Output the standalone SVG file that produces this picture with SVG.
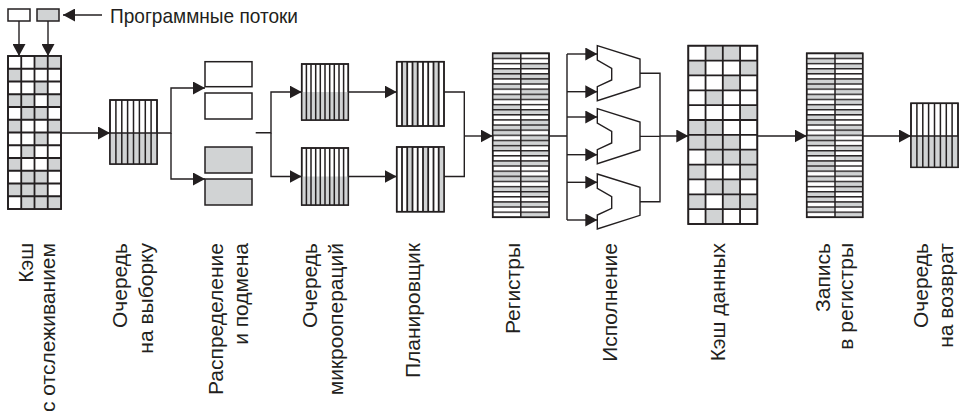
<svg xmlns="http://www.w3.org/2000/svg" width="959" height="416" viewBox="0 0 959 416">
<style>
.lbl{font-family:"Liberation Sans",Arial,sans-serif;font-size:21px;fill:#231f20}
.box{fill:#fff;stroke:#231f20;stroke-width:1.5}
.gbox{fill:#d1d3d4;stroke:#231f20;stroke-width:1.5}
.g{fill:#d1d3d4}
.ln{fill:none;stroke:#231f20;stroke-width:1.5}
.thk{fill:none;stroke:#231f20;stroke-width:1.8}
.con{fill:none;stroke:#231f20;stroke-width:1.4}
.alu{fill:#fff;stroke:#231f20;stroke-width:1.4;stroke-linejoin:miter}
</style>
<defs>
<marker id="ah" markerUnits="userSpaceOnUse" markerWidth="13" markerHeight="13" refX="12" refY="6.5" orient="auto">
<path d="M0,0 L12,6.5 L0,13 z" fill="#231f20"/>
</marker>
<pattern id="hs" patternUnits="userSpaceOnUse" x="0" y="52.6" width="20" height="5.125">
<rect width="20" height="1.4" fill="#231f20"/>
</pattern>
<polygon id="aluShape" points="0,0 42.7,13.3 42.7,41.3 0,55 0,41 14.4,34.3 14.4,22.6 0,14.3"/>
</defs>
<rect width="959" height="416" fill="#fff"/>

<g id="threads">
<rect class="box" x="8" y="9" width="22" height="12"/>
<rect class="gbox" x="37" y="9" width="22" height="12"/>
<text class="lbl" x="110" y="23" textLength="188" lengthAdjust="spacingAndGlyphs">Программные потоки</text>
</g>

<g id="trace-cache">
<rect class="box" x="8" y="56" width="53" height="153"/>
<rect class="g" x="34.5" y="56" width="26.5" height="12.75"/>
<rect class="g" x="8" y="68.75" width="13.25" height="12.75"/>
<rect class="g" x="34.5" y="81.5" width="13.25" height="12.75"/>
<rect class="g" x="8" y="94.25" width="26.5" height="12.75"/>
<rect class="g" x="47.75" y="94.25" width="13.25" height="12.75"/>
<rect class="g" x="21.25" y="107" width="26.5" height="12.75"/>
<rect class="g" x="8" y="119.75" width="13.25" height="12.75"/>
<rect class="g" x="47.75" y="119.75" width="13.25" height="12.75"/>
<rect class="g" x="34.5" y="132.5" width="13.25" height="12.75"/>
<rect class="g" x="21.25" y="145.25" width="13.25" height="12.75"/>
<rect class="g" x="8" y="158" width="13.25" height="12.75"/>
<rect class="g" x="47.75" y="158" width="13.25" height="12.75"/>
<rect class="g" x="21.25" y="170.75" width="26.5" height="12.75"/>
<rect class="g" x="8" y="183.5" width="39.75" height="12.75"/>
<rect class="g" x="21.25" y="196.25" width="39.75" height="12.75"/>
<path class="thk" d="M21.25,56V209M34.5,56V209M47.75,56V209M8,68.75H61M8,81.5H61M8,94.25H61M8,107H61M8,119.75H61M8,132.5H61M8,145.25H61M8,158H61M8,170.75H61M8,183.5H61M8,196.25H61"/>
<rect x="8" y="56" width="53" height="153" fill="none" stroke="#231f20" stroke-width="1.8"/>
<text class="lbl" transform="translate(33,243) rotate(-90)" text-anchor="end">Кэш</text>
<text class="lbl" transform="translate(55,243) rotate(-90)" text-anchor="end">с отслеживанием</text>
</g>

<g id="fetch-queue">
<rect class="box" x="110" y="100" width="47" height="64"/>
<rect class="g" x="110" y="133" width="47" height="31"/>
<path class="ln" d="M115.9,100V164M121.8,100V164M127.6,100V164M133.5,100V164M139.4,100V164M145.3,100V164M151.1,100V164M110,133H157"/>
<rect x="110" y="100" width="47" height="64" fill="none" stroke="#231f20" stroke-width="1.5"/>
<text class="lbl" transform="translate(127,243) rotate(-90)" text-anchor="end">Очередь</text>
<text class="lbl" transform="translate(153,243) rotate(-90)" text-anchor="end">на выборку</text>
</g>

<g id="allocate-rename">
<rect class="box" x="205" y="61.7" width="47" height="25"/>
<rect class="box" x="205" y="93" width="47" height="26"/>
<rect class="gbox" x="205" y="147" width="47" height="26"/>
<rect class="gbox" x="205" y="179" width="47" height="26"/>
<text class="lbl" transform="translate(223,243) rotate(-90)" text-anchor="end">Распределение</text>
<text class="lbl" transform="translate(248,243) rotate(-90)" text-anchor="end">и подмена</text>
</g>

<g id="uop-queue">
<rect class="box" x="301.7" y="64" width="46.6" height="56"/>
<rect class="g" x="301.7" y="92" width="46.6" height="28"/>
<path class="ln" d="M306.4,64V120M311,64V120M315.7,64V120M320.3,64V120M325,64V120M329.7,64V120M334.3,64V120M339,64V120M343.6,64V120"/>
<rect x="301.7" y="64" width="46.6" height="56" fill="none" stroke="#231f20" stroke-width="1.5"/>
<rect class="box" x="301.7" y="148" width="46.6" height="57"/>
<rect class="g" x="301.7" y="176.5" width="46.6" height="28.5"/>
<path class="ln" d="M306.4,148V205M311,148V205M315.7,148V205M320.3,148V205M325,148V205M329.7,148V205M334.3,148V205M339,148V205M343.6,148V205"/>
<rect x="301.7" y="148" width="46.6" height="57" fill="none" stroke="#231f20" stroke-width="1.5"/>
<text class="lbl" transform="translate(317,243) rotate(-90)" text-anchor="end">Очередь</text>
<text class="lbl" transform="translate(343,243) rotate(-90)" text-anchor="end">микроопераций</text>
</g>

<g id="scheduler">
<rect class="box" x="396.7" y="61.7" width="47.3" height="64.3"/>
<rect class="g" x="402" y="61.7" width="5.2" height="64.3"/>
<rect class="g" x="412.5" y="61.7" width="5.2" height="64.3"/>
<rect class="g" x="433.5" y="61.7" width="5.2" height="64.3"/>
<path class="thk" d="M402,61.7V126M407.2,61.7V126M412.5,61.7V126M417.7,61.7V126M423,61.7V126M428.2,61.7V126M433.5,61.7V126M438.7,61.7V126"/>
<rect x="396.7" y="61.7" width="47.3" height="64.3" fill="none" stroke="#231f20" stroke-width="1.5"/>
<rect class="box" x="396.7" y="147" width="47.3" height="64.7"/>
<rect class="g" x="407.2" y="147" width="5.3" height="64.7"/>
<rect class="g" x="423" y="147" width="5.2" height="64.7"/>
<rect class="g" x="438.7" y="147" width="5.3" height="64.7"/>
<path class="thk" d="M402,147V211.7M407.2,147V211.7M412.5,147V211.7M417.7,147V211.7M423,147V211.7M428.2,147V211.7M433.5,147V211.7M438.7,147V211.7"/>
<rect x="396.7" y="147" width="47.3" height="64.7" fill="none" stroke="#231f20" stroke-width="1.5"/>
<text class="lbl" transform="translate(420,243) rotate(-90)" text-anchor="end">Планировщик</text>
</g>

<g id="registers">
<rect class="box" x="492.7" y="53.3" width="56.3" height="164"/>
<g class="g">
<rect x="492.7" y="53.3" width="28.1" height="5.13"/>
<rect x="492.7" y="68.68" width="28.1" height="10.25"/>
<rect x="492.7" y="84.05" width="28.1" height="5.13"/>
<rect x="492.7" y="94.3" width="28.1" height="5.13"/>
<rect x="492.7" y="104.55" width="28.1" height="10.25"/>
<rect x="492.7" y="125.05" width="28.1" height="10.25"/>
<rect x="492.7" y="140.43" width="28.1" height="10.25"/>
<rect x="492.7" y="160.93" width="28.1" height="5.13"/>
<rect x="492.7" y="171.18" width="28.1" height="10.25"/>
<rect x="492.7" y="186.55" width="28.1" height="5.13"/>
<rect x="492.7" y="201.93" width="28.1" height="5.13"/>
<rect x="520.8" y="63.55" width="28.2" height="5.13"/>
<rect x="520.8" y="73.8" width="28.2" height="10.25"/>
<rect x="520.8" y="89.18" width="28.2" height="10.25"/>
<rect x="520.8" y="109.68" width="28.2" height="5.13"/>
<rect x="520.8" y="119.93" width="28.2" height="10.25"/>
<rect x="520.8" y="135.3" width="28.2" height="10.25"/>
<rect x="520.8" y="150.68" width="28.2" height="5.13"/>
<rect x="520.8" y="160.93" width="28.2" height="5.13"/>
<rect x="520.8" y="176.3" width="28.2" height="5.13"/>
<rect x="520.8" y="186.55" width="28.2" height="10.25"/>
<rect x="520.8" y="201.93" width="28.2" height="5.13"/>
<rect x="520.8" y="212.18" width="28.2" height="5.13"/>
</g>
<rect x="492.7" y="53.3" width="56.3" height="164" fill="url(#hs)"/>
<path class="ln" d="M520.8,53.3V217.3"/>
<rect x="492.7" y="53.3" width="56.3" height="164" fill="none" stroke="#231f20" stroke-width="1.5"/>
<text class="lbl" transform="translate(520,243) rotate(-90)" text-anchor="end">Регистры</text>
</g>

<g id="execution">
<use href="#aluShape" class="alu" transform="translate(597.3,45.7)"/>
<use href="#aluShape" class="alu" transform="translate(597.3,108.7)"/>
<use href="#aluShape" class="alu" transform="translate(597.3,174)"/>
<text class="lbl" transform="translate(617,243) rotate(-90)" text-anchor="end">Исполнение</text>
</g>

<g id="data-cache">
<rect class="box" x="688.3" y="45.7" width="69" height="178.3"/>
<g class="g">
<rect x="705.55" y="45.7" width="34.5" height="14.86"/>
<rect x="688.3" y="60.56" width="17.25" height="14.86"/>
<rect x="740.05" y="60.56" width="17.25" height="14.86"/>
<rect x="722.8" y="75.42" width="17.25" height="14.86"/>
<rect x="705.55" y="90.28" width="17.25" height="14.86"/>
<rect x="740.05" y="105.14" width="17.25" height="14.86"/>
<rect x="688.3" y="120" width="34.5" height="14.86"/>
<rect x="688.3" y="134.86" width="51.75" height="14.86"/>
<rect x="705.55" y="149.72" width="51.75" height="14.86"/>
<rect x="688.3" y="164.58" width="17.25" height="14.86"/>
<rect x="740.05" y="164.58" width="17.25" height="14.86"/>
<rect x="705.55" y="179.44" width="34.5" height="14.86"/>
<rect x="688.3" y="194.3" width="17.25" height="14.86"/>
<rect x="722.8" y="194.3" width="34.5" height="14.86"/>
<rect x="705.55" y="209.16" width="17.25" height="14.86"/>
</g>
<path class="thk" d="M705.55,45.7V224M722.8,45.7V224M740.05,45.7V224M688.3,60.56H757.3M688.3,75.42H757.3M688.3,90.28H757.3M688.3,105.14H757.3M688.3,120H757.3M688.3,134.86H757.3M688.3,149.72H757.3M688.3,164.58H757.3M688.3,179.44H757.3M688.3,194.3H757.3M688.3,209.16H757.3"/>
<rect x="688.3" y="45.7" width="69" height="178.3" fill="none" stroke="#231f20" stroke-width="1.8"/>
<text class="lbl" transform="translate(725,243) rotate(-90)" text-anchor="end">Кэш данных</text>
</g>

<g id="writeback">
<rect class="box" x="806.7" y="53.3" width="56" height="164"/>
<g class="g">
<rect x="806.7" y="58.43" width="28.3" height="5.13"/>
<rect x="806.7" y="68.68" width="28.3" height="5.13"/>
<rect x="806.7" y="78.93" width="28.3" height="10.25"/>
<rect x="806.7" y="94.3" width="28.3" height="5.13"/>
<rect x="806.7" y="104.55" width="28.3" height="5.13"/>
<rect x="806.7" y="114.8" width="28.3" height="10.25"/>
<rect x="806.7" y="135.3" width="28.3" height="10.25"/>
<rect x="806.7" y="150.68" width="28.3" height="5.13"/>
<rect x="806.7" y="160.93" width="28.3" height="10.25"/>
<rect x="806.7" y="176.3" width="28.3" height="5.13"/>
<rect x="806.7" y="191.68" width="28.3" height="10.25"/>
<rect x="806.7" y="207.05" width="28.3" height="5.13"/>
<rect x="835" y="53.3" width="27.7" height="5.13"/>
<rect x="835" y="63.55" width="27.7" height="5.13"/>
<rect x="835" y="78.93" width="27.7" height="5.13"/>
<rect x="835" y="89.18" width="27.7" height="5.13"/>
<rect x="835" y="99.43" width="27.7" height="5.13"/>
<rect x="835" y="109.68" width="27.7" height="5.13"/>
<rect x="835" y="125.05" width="27.7" height="10.25"/>
<rect x="835" y="145.55" width="27.7" height="5.13"/>
<rect x="835" y="155.8" width="27.7" height="5.13"/>
<rect x="835" y="171.18" width="27.7" height="5.13"/>
<rect x="835" y="181.43" width="27.7" height="10.25"/>
<rect x="835" y="201.93" width="27.7" height="5.13"/>
<rect x="835" y="212.18" width="27.7" height="5.13"/>
</g>
<rect x="806.7" y="53.3" width="56" height="164" fill="url(#hs)"/>
<path class="ln" d="M835,53.3V217.3"/>
<rect x="806.7" y="53.3" width="56" height="164" fill="none" stroke="#231f20" stroke-width="1.5"/>
<text class="lbl" transform="translate(830,243) rotate(-90)" text-anchor="end">Запись</text>
<text class="lbl" transform="translate(853,243) rotate(-90)" text-anchor="end">в регистры</text>
</g>

<g id="retire-queue">
<rect class="box" x="911" y="103.3" width="47" height="64"/>
<rect class="g" x="911" y="136" width="47" height="31.3"/>
<path class="ln" d="M916.9,103.3V167.3M922.8,103.3V167.3M928.6,103.3V167.3M934.5,103.3V167.3M940.4,103.3V167.3M946.3,103.3V167.3M952.1,103.3V167.3M911,136H958"/>
<rect x="911" y="103.3" width="47" height="64" fill="none" stroke="#231f20" stroke-width="1.5"/>
<text class="lbl" transform="translate(928,243) rotate(-90)" text-anchor="end">Очередь</text>
<text class="lbl" transform="translate(953,243) rotate(-90)" text-anchor="end">на возврат</text>
</g>

<g id="connectors" class="con">
<path d="M102,15H63" marker-end="url(#ah)"/>
<path d="M19,21V56" marker-end="url(#ah)"/>
<path d="M48,21V56" marker-end="url(#ah)"/>
<path d="M61,133H110" marker-end="url(#ah)"/>
<path d="M157,133H171V88H205" marker-end="url(#ah)"/>
<path d="M171,133V179H205" marker-end="url(#ah)"/>
<path d="M255.7,132.7H271V92H301.7" marker-end="url(#ah)"/>
<path d="M271,132.7V176.5H301.7" marker-end="url(#ah)"/>
<path d="M348.3,92H396.7" marker-end="url(#ah)"/>
<path d="M348.3,176.5H396.7" marker-end="url(#ah)"/>
<path d="M444,92H464.3V176.5H444"/>
<path d="M464.3,136H492.7" marker-end="url(#ah)"/>
<path d="M549,136H567M567,54V220"/>
<path d="M567,54H597.3" marker-end="url(#ah)"/>
<path d="M567,91.7H597.3" marker-end="url(#ah)"/>
<path d="M567,117H597.3" marker-end="url(#ah)"/>
<path d="M567,154.7H597.3" marker-end="url(#ah)"/>
<path d="M567,182.3H597.3" marker-end="url(#ah)"/>
<path d="M567,220H597.3" marker-end="url(#ah)"/>
<path d="M640,73.3H660V201.7H640M640,136.4H660"/>
<path d="M660,136H688.3" marker-end="url(#ah)"/>
<path d="M757.3,136H806.7" marker-end="url(#ah)"/>
<path d="M862.7,136H911" marker-end="url(#ah)"/>
</g>
</svg>
